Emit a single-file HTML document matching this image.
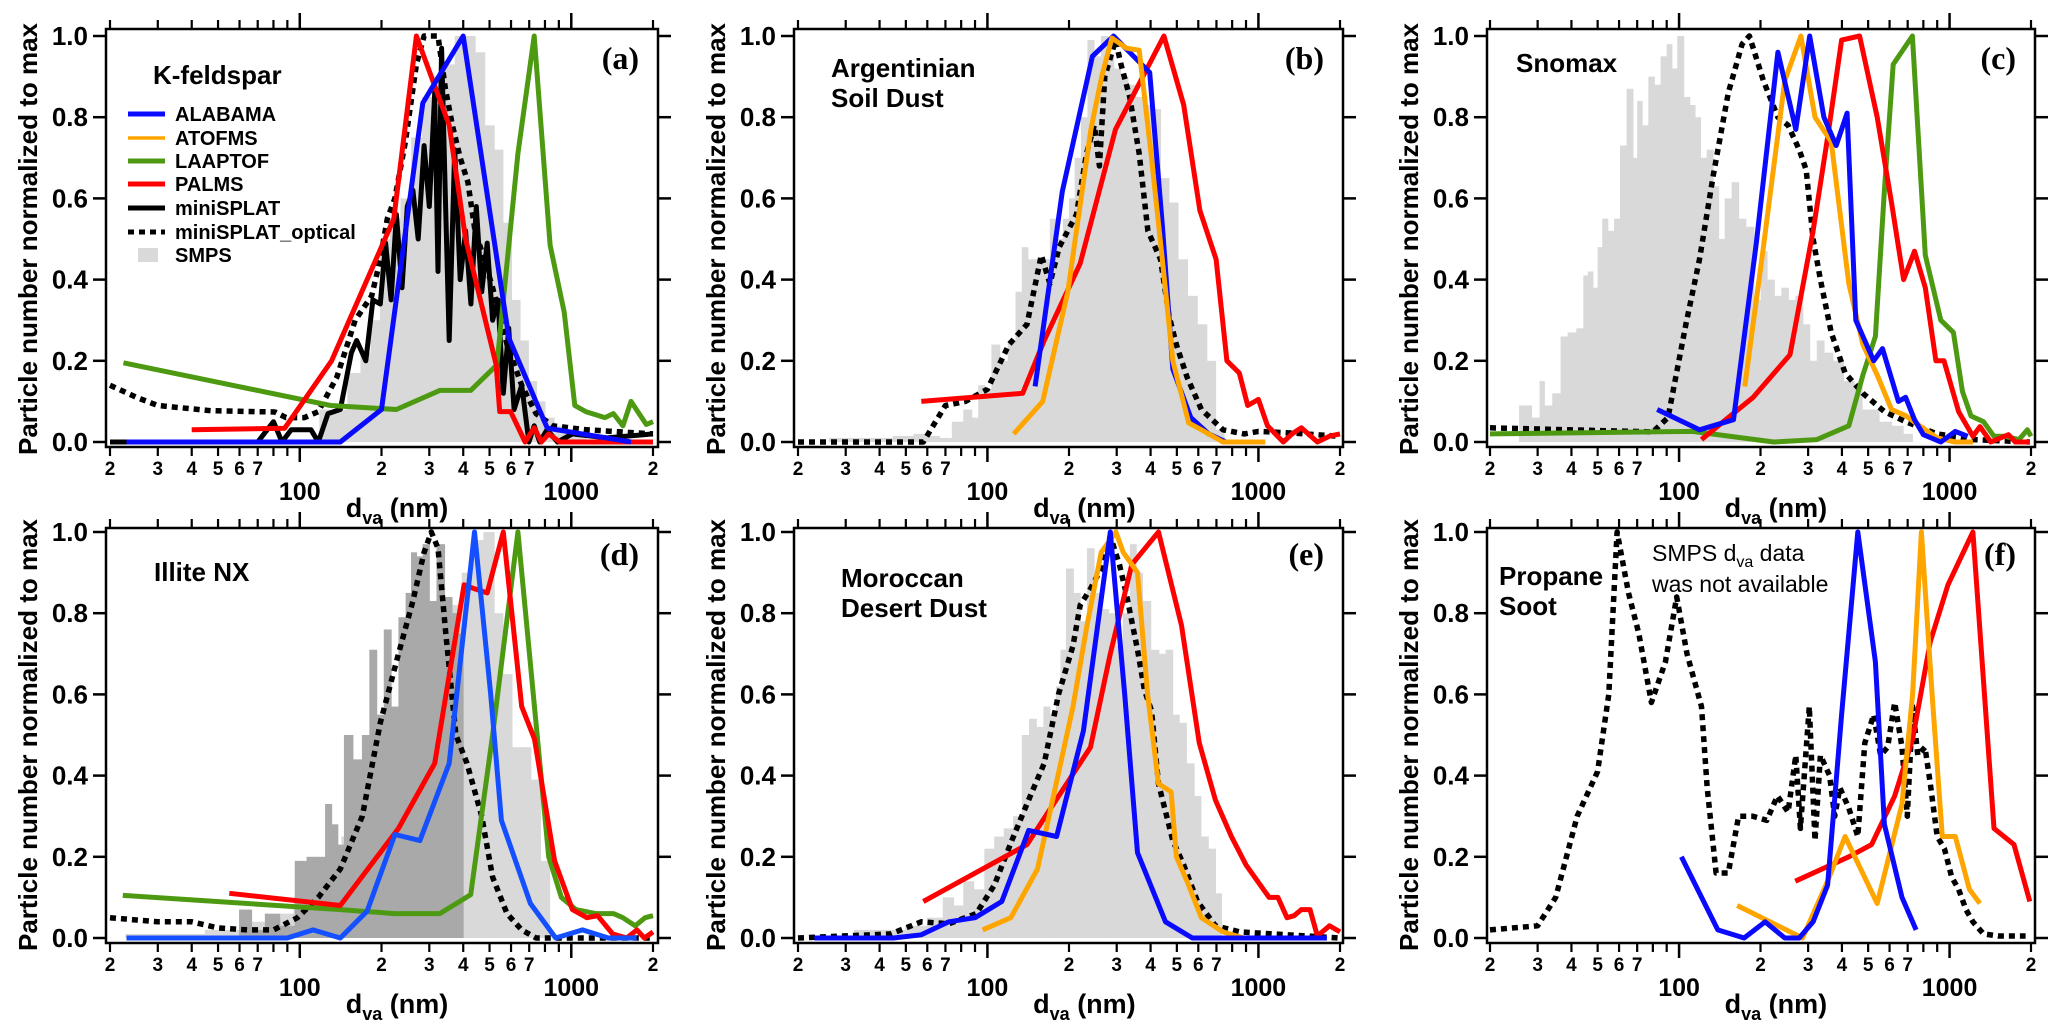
<!DOCTYPE html>
<html><head><meta charset="utf-8">
<style>
html,body{margin:0;padding:0;background:#fff;}
svg{display:block;font-family:"Liberation Sans",Arial,sans-serif;}
</style></head>
<body>
<svg id="chart" width="2067" height="1033" viewBox="0 0 2067 1033" xmlns="http://www.w3.org/2000/svg">
<rect x="0" y="0" width="2067" height="1033" fill="#fff"/>
</svg>
<script>
// ---------------- DATA ----------------
const yTicks = [0, 0.2, 0.4, 0.6, 0.8, 1.0];
const yTickLabels = ["0.0","0.2","0.4","0.6","0.8","1.0"];
const xMinorTicks = [20,30,40,50,60,70,80,90,200,300,400,500,600,700,800,900,2000];
const xMinorLabels = ["2","3","4","5","6","7","","","2","3","4","5","6","7","","","2"];
const xMajorTicks = [100,1000];
const xMajorLabels = ["100","1000"];

// Panel (a) K-feldspar
const aSMPS = [[125,0.08],[140,0.08],[160,0.17],[175,0.22],[190,0.3],[205,0.5],[225,0.55],[245,0.6],[270,0.75],[295,0.85],[325,0.9],[355,0.93],[390,1.0],[425,1.0],[460,0.96],[500,0.78],[540,0.72],[580,0.54],[625,0.35],[670,0.25],[720,0.15],[770,0.1],[830,0.06],[900,0.04],[980,0.03],[1080,0.02]];
const aOptical = [[20,0.14],[25,0.11],[30,0.09],[47,0.077],[81,0.074],[89,0.06],[104,0.06],[117,0.075],[137,0.16],[160,0.3],[184,0.36],[198,0.45],[210,0.55],[224,0.6],[245,0.74],[269,0.93],[287,1.0],[323,1.0],[344,0.87],[365,0.78],[390,0.7],[416,0.64],[442,0.52],[468,0.47],[513,0.38],[580,0.24],[657,0.14],[742,0.07],[854,0.04],[1140,0.03],[2000,0.02]];
const aMini = [[20,0],[70,0],[80,0.05],[86,0],[93,0.03],[110,0.03],[117,0],[127,0.07],[141,0.08],[155,0.22],[162,0.25],[175,0.2],[186,0.35],[198,0.34],[207,0.49],[217,0.35],[227,0.56],[238,0.38],[249,0.58],[261,0.62],[273,0.5],[287,0.73],[300,0.58],[314,0.86],[323,0.42],[333,0.97],[344,0.6],[355,0.25],[372,0.72],[390,0.4],[408,0.52],[427,0.34],[447,0.58],[468,0.37],[490,0.49],[513,0.3],[537,0.35],[562,0.12],[588,0.28],[616,0.08],[657,0.14],[698,0],[730,0.04],[765,0],[814,0.03],[890,0],[1010,0.02],[1350,0.01],[2000,0.02]];
const aLaaptof = [[22.4,0.195],[130,0.09],[227,0.08],[328,0.127],[426,0.127],[532,0.19],[636,0.71],[730,1.0],[836,0.485],[942,0.32],[1030,0.09],[1130,0.075],[1330,0.06],[1430,0.07],[1550,0.04],[1660,0.1],[1890,0.043],[2000,0.05]];
const aPalms = [[40,0.03],[88,0.034],[131,0.2],[222,0.55],[269,1.0],[355,0.78],[408,0.5],[529,0.19],[545,0.075],[598,0.075],[676,0],[730,0.035],[776,0],[826,0.02],[908,0],[2000,0]];
const aAlabama = [[23,0],[141,0],[200,0.08],[284,0.835],[400,1.0],[589,0.256],[816,0.034],[1660,0]];

// Panel (b) Argentinian Soil Dust
const bSMPS = [[30,0.01],[40,0.01],[50,0.015],[57,0.02],[63,0.015],[70,0.01],[78,0.05],[85,0.08],[90,0.06],[95,0.14],[100,0.13],[107,0.24],[115,0.2],[123,0.25],[131,0.37],[137,0.48],[145,0.45],[155,0.45],[165,0.45],[175,0.55],[185,0.5],[195,0.55],[205,0.6],[215,0.7],[228,0.8],[240,0.99],[255,0.95],[270,1.0],[285,0.95],[300,0.92],[320,0.9],[340,0.88],[365,0.85],[390,0.83],[420,0.82],[450,0.65],[485,0.59],[525,0.45],[570,0.36],[620,0.29],[670,0.2],[720,0.03]];
const bOptical = [[20,0],[58,0],[70,0.09],[83,0.1],[100,0.13],[120,0.24],[140,0.29],[158,0.46],[170,0.39],[184,0.48],[213,0.56],[232,0.71],[248,0.78],[259,0.68],[271,0.9],[297,0.99],[311,0.93],[335,0.85],[363,0.71],[391,0.52],[435,0.45],[468,0.31],[498,0.24],[545,0.16],[616,0.08],[740,0.03],[886,0.02],[1000,0.026],[1350,0.022],[2000,0.014]];
const bPalms = [[57,0.1],[135,0.12],[162,0.25],[220,0.44],[297,0.77],[448,1.0],[530,0.83],[608,0.57],[698,0.45],[765,0.2],[850,0.17],[913,0.09],[1000,0.105],[1080,0.04],[1235,0],[1330,0.02],[1440,0.035],[1650,0],[1840,0.015],[2000,0.02]];
const bAtofms = [[125,0.02],[160,0.1],[198,0.37],[241,0.77],[264,0.9],[288,0.995],[326,0.97],[363,0.965],[403,0.7],[442,0.45],[483,0.2],[553,0.047],[616,0.03],[740,0],[1060,0]];
const bAlabama = [[150,0.137],[189,0.617],[244,0.95],[292,1.0],[397,0.91],[442,0.535],[483,0.18],[563,0.06],[655,0.02],[760,0],[1000,0]];

// Panel (c) Snomax
const cSMPS = [[27,0.09],[30,0.06],[31,0.15],[32.5,0.09],[35.5,0.12],[37.5,0.26],[40,0.27],[43.5,0.28],[45,0.41],[47,0.42],[49,0.38],[51,0.48],[53,0.55],[56,0.52],[59,0.55],[62,0.73],[66,0.87],[69,0.7],[71,0.84],[75,0.78],[79,0.9],[83,0.88],[88,0.95],[92,0.98],[96,0.92],[101,1.0],[107,0.85],[112,0.83],[117,0.8],[123,0.7],[130,0.72],[137,0.63],[143,0.5],[152,0.6],[161,0.64],[171,0.55],[182,0.53],[196,0.35],[205,0.47],[218,0.4],[232,0.36],[246,0.38],[261,0.35],[278,0.36],[295,0.29],[313,0.2],[333,0.25],[354,0.22],[387,0.2],[424,0.15],[465,0.14],[485,0.08],[524,0.08],[574,0.05],[647,0.04],[700,0.02]];
const cOptical = [[20,0.035],[80,0.025],[91,0.06],[106,0.29],[119,0.45],[134,0.66],[152,0.86],[171,0.98],[182,1.0],[205,0.89],[232,0.8],[253,0.78],[278,0.72],[295,0.67],[313,0.5],[333,0.4],[365,0.27],[411,0.17],[478,0.12],[574,0.075],[688,0.05],[900,0.02],[1220,0.006],[1980,0]];
const cLaaptof = [[20,0.02],[112,0.026],[224,0],[323,0.006],[424,0.04],[478,0.165],[532,0.26],[574,0.62],[619,0.93],[729,1.0],[813,0.46],[928,0.3],[1033,0.27],[1115,0.125],[1200,0.064],[1335,0.05],[1460,0.014],[1600,0.014],[1805,0.006],[1940,0.03],[2000,0.014]];
const cPalms = [[121,0.006],[152,0.06],[188,0.11],[257,0.215],[313,0.52],[354,0.75],[399,0.99],[465,1.0],[540,0.8],[610,0.59],[676,0.4],[742,0.47],[813,0.38],[890,0.2],[954,0.2],[1080,0.075],[1220,0.014],[1295,0.038],[1420,0],[1650,0.018],[1750,0],[1980,0]];
const cAtofms = [[175,0.137],[205,0.48],[246,0.89],[282,1.0],[318,0.8],[365,0.74],[424,0.39],[478,0.24],[540,0.165],[610,0.08],[688,0.065],[775,0.04],[900,0.01],[1050,0],[1220,0]];
const cAlabama = [[83,0.08],[119,0.03],[159,0.055],[193,0.49],[232,0.96],[270,0.77],[304,1.0],[343,0.8],[381,0.73],[418,0.81],[450,0.3],[524,0.2],[565,0.23],[647,0.1],[688,0.11],[742,0.055],[800,0.018],[928,0],[1050,0.026],[1167,0.014]];

// Panel (d) Illite NX
const dSMPS = [[25,0.01],[30,0.01],[40,0.01],[50,0.02],[60,0.02],[70,0.04],[80,0.05],[90,0.06],[100,0.1],[110,0.15],[120,0.15],[135,0.18],[150,0.25],[165,0.3],[180,0.35],[200,0.38],[220,0.41],[245,0.53],[270,0.68],[300,0.75],[340,0.82],[380,0.82],[410,0.9],[450,0.98],[500,1.0],[540,0.8],[580,0.65],[630,0.47],[680,0.47],[740,0.39],[800,0.19]];
const dSMPSdark = [[63,0.07],[70,0.02],[79,0.06],[90,0.03],[102,0.19],[110,0.2],[121,0.2],[127,0.33],[135,0.28],[141,0.23],[150,0.5],[164,0.44],[175,0.5],[186,0.71],[198,0.55],[210,0.76],[224,0.57],[238,0.79],[253,0.85],[261,0.95],[277,0.94],[290,0.97],[310,0.83],[328,0.97],[355,0.84],[372,0.8],[390,0.75]];
const dOptical = [[20,0.05],[30,0.04],[40,0.04],[50,0.025],[64,0.02],[80,0.02],[98,0.05],[117,0.1],[141,0.17],[170,0.3],[198,0.53],[231,0.7],[261,0.83],[287,0.95],[305,1.0],[323,0.96],[345,0.75],[376,0.5],[413,0.43],[468,0.3],[513,0.15],[580,0.06],[657,0.02],[742,0],[1010,0],[2000,0]];
const dLaaptof = [[22.3,0.105],[141,0.07],[224,0.06],[328,0.06],[426,0.107],[513,0.5],[636,1.0],[826,0.2],[920,0.1],[1040,0.07],[1230,0.06],[1430,0.06],[1550,0.05],[1720,0.03],[1870,0.05],[2000,0.055]];
const dPalms = [[55,0.11],[141,0.08],[231,0.27],[314,0.43],[403,0.87],[440,0.86],[490,0.85],[562,1.0],[657,0.57],[732,0.49],[868,0.19],[1010,0.07],[1142,0.05],[1250,0.055],[1420,0.01],[1600,0],[1745,0.02],[1860,0],[2000,0.015]];
const dAlabama = [[23,0],[90,0],[112,0.02],[141,0],[177,0.066],[224,0.255],[277,0.24],[355,0.43],[440,1.0],[505,0.6],[553,0.29],[707,0.085],[876,0],[1100,0.02],[1370,0],[1740,0]];

// Panel (e) Moroccan Desert Dust
const eSMPS = [[36,0.02],[45,0.02],[55,0.03],[65,0.05],[72,0.1],[78,0.08],[85,0.14],[93,0.12],[102,0.22],[110,0.25],[120,0.27],[129,0.3],[139,0.5],[146,0.54],[157,0.52],[165,0.57],[175,0.55],[183,0.62],[189,0.71],[201,0.91],[214,0.85],[226,0.78],[240,0.96],[255,0.85],[271,0.81],[289,0.8],[307,0.72],[325,0.8],[346,0.97],[362,0.9],[385,0.83],[416,0.71],[442,0.7],[467,0.71],[498,0.55],[522,0.53],[562,0.43],[596,0.35],[630,0.25],[676,0.22],[712,0.11]];
const eOptical = [[20,0],[44,0.01],[57,0.04],[72,0.035],[91,0.06],[106,0.13],[123,0.24],[144,0.35],[162,0.43],[183,0.6],[207,0.72],[220,0.82],[240,0.86],[263,0.91],[284,0.99],[307,0.92],[325,0.85],[358,0.71],[380,0.61],[403,0.56],[428,0.38],[483,0.24],[530,0.18],[596,0.09],[694,0.03],[854,0.015],[2000,0]];
const ePalms = [[58,0.09],[140,0.23],[240,0.47],[284,0.7],[341,0.92],[428,1.0],[520,0.77],[605,0.48],[694,0.34],[795,0.25],[900,0.18],[1095,0.1],[1180,0.1],[1275,0.05],[1354,0.055],[1440,0.07],[1550,0.07],[1650,0.005],[1830,0.03],[2000,0.015]];
const eAtofms = [[96,0.02],[122,0.05],[153,0.17],[178,0.37],[207,0.57],[233,0.77],[263,0.95],[298,1.0],[317,0.95],[358,0.9],[390,0.6],[428,0.38],[476,0.36],[498,0.2],[545,0.14],[616,0.05],[740,0.015],[880,0],[1000,0]];
const eAlabama = [[23,0],[45,0],[57,0.008],[72,0.04],[90,0.05],[113,0.09],[142,0.265],[180,0.25],[226,0.51],[284,1.0],[321,0.6],[358,0.21],[454,0.04],[570,0],[910,0],[1790,0]];

// Panel (f) Propane Soot
const fOptical = [[20,0.02],[30,0.03],[35,0.1],[42,0.3],[50,0.41],[55,0.6],[59,1.0],[65,0.85],[71,0.75],[79,0.58],[89,0.68],[98,0.84],[107,0.7],[121,0.57],[127,0.37],[137,0.16],[152,0.16],[166,0.3],[187,0.3],[211,0.29],[231,0.35],[253,0.31],[270,0.45],[281,0.27],[303,0.57],[318,0.24],[333,0.45],[360,0.4],[376,0.3],[393,0.37],[424,0.32],[458,0.25],[486,0.48],[524,0.55],[556,0.45],[590,0.47],[627,0.58],[667,0.47],[698,0.3],[730,0.57],[763,0.45],[811,0.47],[849,0.38],[900,0.25],[957,0.22],[1018,0.15],[1080,0.12],[1150,0.07],[1220,0.04],[1335,0.01],[1510,0.005],[1910,0.005]];
const fPalms = [[269,0.14],[424,0.2],[515,0.23],[627,0.35],[730,0.49],[849,0.73],[987,0.87],[1220,1.0],[1460,0.27],[1730,0.23],[1980,0.09]];
const fAtofms = [[164,0.08],[286,0],[354,0.14],[411,0.25],[540,0.085],[667,0.33],[730,0.6],[787,1.0],[862,0.6],[940,0.25],[1050,0.25],[1184,0.12],[1295,0.085]];
const fAlabama = [[102,0.2],[139,0.02],[174,0],[208,0.04],[246,0],[278,0],[313,0.04],[354,0.13],[399,0.55],[458,1.0],[532,0.68],[574,0.28],[667,0.1],[752,0.02]];

// ---------------- LAYOUT / STYLE ----------------
const NS = "http://www.w3.org/2000/svg";
const svg = document.getElementById("chart");
const cols = [{x20:110,x2000:653,fl:106,fr:658},{x20:798,x2000:1340,fl:794,fr:1343},{x20:1490,x2000:2031,fl:1487,fr:2035}];
const rows = [{y1:36,y0:442,ft:29,fb:447},{y1:532,y0:938,ft:528,fb:943}];
const COL = {blue:"#0a0aff", orange:"#ffa500", green:"#4d9a12", red:"#ff0000", black:"#000", smps:"#d9d9d9", smpsDark:"#a9a9a9"};

function mk(tag, attrs, parent){
  const e = document.createElementNS(NS, tag);
  for (const k in attrs) e.setAttribute(k, attrs[k]);
  (parent||svg).appendChild(e);
  return e;
}
function makeX(c){ const k=(c.x2000-c.x20)/2; return d => c.x20 + (Math.log10(d)-Math.log10(20))*k; }
function makeY(r){ return v => r.y0 - v*(r.y0-r.y1); }

function drawBars(g, data, X, Y, fill, name){
  for (let i=0;i<data.length;i++){
    const c = data[i][0];
    const lo = i>0 ? Math.sqrt(data[i-1][0]*c) : c*c/Math.sqrt(c*data[i+1][0]);
    const hi = i<data.length-1 ? Math.sqrt(data[i+1][0]*c) : c*c/Math.sqrt(c*data[i-1][0]);
    const r = mk("rect",{x:X(lo), y:Y(data[i][1]), width:Math.max(0.5,X(hi)-X(lo)+0.6), height:Y(0)-Y(data[i][1]), fill:fill}, g);
    
    
  }
}
function drawLine(g, data, X, Y, color, dashed, name){
  const d = data.map((p,i)=>(i?"L":"M")+X(p[0]).toFixed(1)+" "+Y(p[1]).toFixed(1)).join(" ");
  const p = mk("path",{d:d, fill:"none", stroke:color, "stroke-width":dashed?5.5:5, "stroke-linejoin":"round", "stroke-dasharray":dashed?"6 5":"none"}, g);
  
  
}

function drawPanel(ci, ri, key, series, labels){
  const c = cols[ci], r = rows[ri];
  const X = makeX(c), Y = makeY(r);
  const g = mk("g",{});
  
  
  const clipId = "clip"+key;
  const cp = mk("clipPath",{id:clipId}, g);
  mk("rect",{x:c.fl, y:r.ft, width:c.fr-c.fl, height:r.fb-r.ft}, cp);
  const plot = mk("g",{"clip-path":"url(#"+clipId+")"}, g);
  
  
  series.forEach(s=>{
    if (s.bars) drawBars(plot, s.data, X, Y, s.color, s.name);
    else drawLine(plot, s.data, X, Y, s.color, s.dashed, s.name);
  });
  // frame
  const fr = mk("rect",{x:c.fl, y:r.ft, width:c.fr-c.fl, height:r.fb-r.ft, fill:"none", stroke:"#000", "stroke-width":2.5}, g);
  
  
  // y ticks
  const yax = mk("g",{}, g);
  
  
  yTicks.forEach((v,i)=>{
    const y = Y(v);
    mk("line",{x1:c.fl-13, x2:c.fl, y1:y, y2:y, stroke:"#000","stroke-width":2.5}, yax);
    mk("line",{x1:c.fr, x2:c.fr+13, y1:y, y2:y, stroke:"#000","stroke-width":2.5}, yax);
    const t = mk("text",{x:c.fl-18, y:y+9, "text-anchor":"end", "font-size":26, "font-weight":"bold"}, yax);
    t.textContent = yTickLabels[i];
    
    
  });
  const yt = mk("text",{x:0, y:0, "text-anchor":"middle", "font-size":26, "font-weight":"bold", transform:"translate("+(c.fl-69)+","+((r.y0+r.y1)/2)+") rotate(-90)"}, yax);
  yt.textContent = "Particle number normalized to max";
  
  
  // x ticks
  const xax = mk("g",{}, g);
  
  
  xMinorTicks.forEach((v,i)=>{
    const x = X(v);
    mk("line",{x1:x, x2:x, y1:r.fb, y2:r.fb+9, stroke:"#000","stroke-width":2.2}, xax);
    mk("line",{x1:x, x2:x, y1:r.ft-9, y2:r.ft, stroke:"#000","stroke-width":2.2}, xax);
    if (xMinorLabels[i]) {
      const t = mk("text",{x:x, y:r.fb+28, "text-anchor":"middle", "font-size":19, "font-weight":"bold"}, xax);
      t.textContent = xMinorLabels[i];
      
      
    }
  });
  xMajorTicks.forEach((v,i)=>{
    const x = X(v);
    mk("line",{x1:x, x2:x, y1:r.fb, y2:r.fb+15, stroke:"#000","stroke-width":2.5}, xax);
    mk("line",{x1:x, x2:x, y1:r.ft-16, y2:r.ft, stroke:"#000","stroke-width":2.5}, xax);
    const t = mk("text",{x:x, y:r.fb+53, "text-anchor":"middle", "font-size":25, "font-weight":"bold"}, xax);
    t.textContent = xMajorLabels[i];
    
    
  });
  const xt = mk("text",{x:X(228), y:r.fb+70, "text-anchor":"middle", "font-size":27, "font-weight":"bold"}, xax);
  xt.innerHTML = 'd<tspan font-size="18" dy="7">va</tspan><tspan dy="-7"> (nm)</tspan>';
  
  
  // panel letter
  const pl = mk("text",{x:c.fr-19, y:r.y1+33, "text-anchor":"end", "font-size":32, "font-weight":"bold", "font-family":"Liberation Serif, serif"}, g);
  pl.textContent = "(" + key + ")";
  
  
  // sample label
  labels.forEach(l=>{
    const t = mk("text",{x:l.x, y:l.y, "font-size":l.size||26, "font-weight":l.normal?"normal":"bold"}, g);
    if (l.html) t.innerHTML = l.html; else t.textContent = l.text;
    
    
  });
}

drawPanel(0,0,"a",[
  {bars:true, data:aSMPS, color:COL.smps, name:"smps"},
  {data:aOptical, color:COL.black, dashed:true, name:"minisplat-optical-line"},
  {data:aMini, color:COL.black, name:"minisplat-line"},
  {data:aLaaptof, color:COL.green, name:"laaptof-line"},
  {data:aPalms, color:COL.red, name:"palms-line"},
  {data:aAlabama, color:COL.blue, name:"alabama-line"}
],[{x:153,y:84,text:"K-feldspar",name:"sample-label"}]);

drawPanel(1,0,"b",[
  {bars:true, data:bSMPS, color:COL.smps, name:"smps"},
  {data:bOptical, color:COL.black, dashed:true, name:"minisplat-optical-line"},
  {data:bPalms, color:COL.red, name:"palms-line"},
  {data:bAlabama, color:COL.blue, name:"alabama-line"},
  {data:bAtofms, color:COL.orange, name:"atofms-line"}
],[{x:831,y:77,text:"Argentinian",name:"sample-label"},{x:831,y:107,text:"Soil Dust",name:"sample-label-line2"}]);

drawPanel(2,0,"c",[
  {bars:true, data:cSMPS, color:COL.smps, name:"smps"},
  {data:cOptical, color:COL.black, dashed:true, name:"minisplat-optical-line"},
  {data:cLaaptof, color:COL.green, name:"laaptof-line"},
  {data:cPalms, color:COL.red, name:"palms-line"},
  {data:cAtofms, color:COL.orange, name:"atofms-line"},
  {data:cAlabama, color:COL.blue, name:"alabama-line"}
],[{x:1516,y:72,text:"Snomax",name:"sample-label"}]);

drawPanel(0,1,"d",[
  {bars:true, data:dSMPS, color:COL.smps, name:"smps"},
  {bars:true, data:dSMPSdark, color:COL.smpsDark, name:"smps-dark"},
  {data:dOptical, color:COL.black, dashed:true, name:"minisplat-optical-line"},
  {data:dLaaptof, color:COL.green, name:"laaptof-line"},
  {data:dPalms, color:COL.red, name:"palms-line"},
  {data:dAlabama, color:"#1450ff", name:"alabama-line"}
],[{x:154,y:581,text:"Illite NX",name:"sample-label"}]);

drawPanel(1,1,"e",[
  {bars:true, data:eSMPS, color:COL.smps, name:"smps"},
  {data:eOptical, color:COL.black, dashed:true, name:"minisplat-optical-line"},
  {data:ePalms, color:COL.red, name:"palms-line"},
  {data:eAtofms, color:COL.orange, name:"atofms-line"},
  {data:eAlabama, color:COL.blue, name:"alabama-line"}
],[{x:841,y:587,text:"Moroccan",name:"sample-label"},{x:841,y:617,text:"Desert Dust",name:"sample-label-line2"}]);

drawPanel(2,1,"f",[
  {data:fOptical, color:COL.black, dashed:true, name:"minisplat-optical-line"},
  {data:fPalms, color:COL.red, name:"palms-line"},
  {data:fAtofms, color:COL.orange, name:"atofms-line"},
  {data:fAlabama, color:COL.blue, name:"alabama-line"}
],[{x:1499,y:585,text:"Propane",name:"sample-label"},{x:1499,y:615,text:"Soot",name:"sample-label-line2"},
   {x:1652,y:561,size:23,normal:true,html:'SMPS d<tspan font-size="16" dy="6">va</tspan><tspan dy="-6"> data</tspan>',name:"smps-note"},
   {x:1652,y:592,size:23,normal:true,text:"was not available",name:"smps-note-line2"}]);

// ---------------- LEGEND (panel a) ----------------
const legendNames = ["ALABAMA","ATOFMS","LAAPTOF","PALMS","miniSPLAT","miniSPLAT_optical","SMPS"];
const legendColors = [COL.blue, COL.orange, COL.green, COL.red, COL.black, COL.black, COL.smps];
const legendY = [114,138,161,184,208,232,255];
const lg = mk("g",{});


legendNames.forEach((n,i)=>{
  const y = legendY[i];
  const e = mk("g",{}, lg);
  
  
  if (n === "SMPS") mk("rect",{x:138, y:y-7, width:20, height:14, fill:COL.smps}, e);
  else mk("line",{x1:128, x2:165, y1:y, y2:y, stroke:legendColors[i], "stroke-width":(n==="ATOFMS")?3.5:5, "stroke-dasharray":(n==="miniSPLAT_optical")?"6 5":"none"}, e);
  const t = mk("text",{x:175, y:y+7, "font-size":20, "font-weight":"bold"}, e);
  t.textContent = n;
});
</script>
</body></html>
